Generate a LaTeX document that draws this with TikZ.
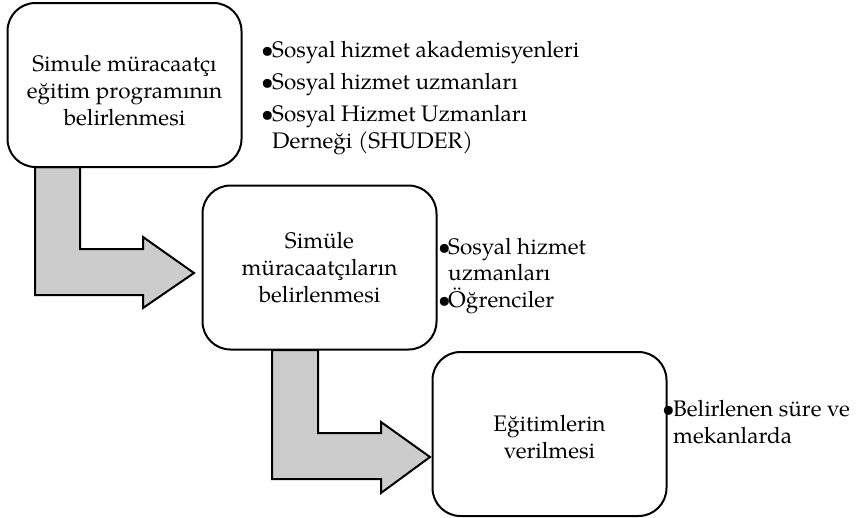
\documentclass[tikz,border=0pt]{standalone}
\usepackage{fontspec}
\setmainfont{TeX Gyre Pagella}
\definecolor{arrowgray}{RGB}{204,204,204}
\begin{document}
\begin{tikzpicture}[x=1pt,y=-1pt,
  stepbox/.style={draw=black, line width=2pt, rounded corners=28pt, fill=white,
    minimum width=234pt, minimum height=164pt, align=center, inner sep=0pt,
    font=\fontsize{22.5}{27}\selectfont},
  bentarrow/.style={draw=black, line width=2pt, fill=arrowgray, line join=miter},
  bullettext/.style={anchor=north west, inner sep=0pt, align=left,
    font=\fontsize{22.5}{27}\selectfont}]
\useasboundingbox (0,0) rectangle (857,517);
% bent arrows (drawn first so the box borders sit on top)
\draw[bentarrow] (35,167) -- (80,167) -- (80,249) -- (143,249) -- (143,237)
  -- (194,273) -- (143,308) -- (143,295) -- (35,295) -- cycle;
\draw[bentarrow] (272,350) -- (318,350) -- (318,433) -- (381,433) -- (381,422)
  -- (430,457) -- (381,493) -- (381,479) -- (272,479) -- cycle;
% boxes
\node[stepbox] (b1) at (124.5,85) {\rule{0pt}{28pt}Simule müracaatçı\\eğitim programının\\belirlenmesi};
\node[stepbox] (b2) at (319.5,267.5) {Simüle\\müracaatçıların\\belirlenmesi};
\node[stepbox] (b3) at (549.5,434) {\rule{0pt}{23pt}Eğitimlerin\\verilmesi};
% bullet lists
\node[bullettext] (l1) at (261,37) {\rule{0pt}{20pt}\makebox[11pt][l]{•}Sosyal hizmet akademisyenleri\\[5.5pt]
  \makebox[11pt][l]{•}Sosyal hizmet uzmanları\\[4.5pt]
  \makebox[11pt][l]{•}Sosyal Hizmet Uzmanları\\
  \hspace*{11pt}Derneği (SHUDER)};
\node[bullettext] (l2) at (438,234) {\rule{0pt}{20pt}\makebox[10pt][l]{•}Sosyal hizmet\\[-1pt]
  \hspace*{10pt}uzmanları\\
  \makebox[10pt][l]{•}Öğrenciler};
\node[bullettext] (l3) at (662,396) {\rule{0pt}{20pt}\makebox[11pt][l]{•}Belirlenen süre ve\\
  \hspace*{11pt}mekanlarda};
\end{tikzpicture}
\end{document}
